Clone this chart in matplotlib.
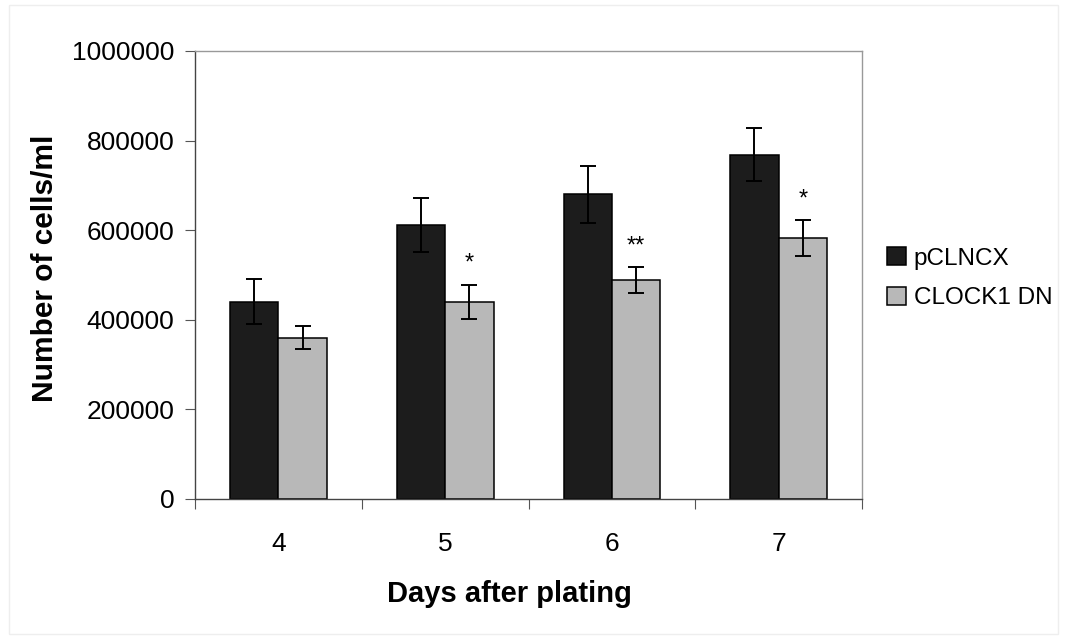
import numpy as np
import matplotlib
matplotlib.use("Agg")
import matplotlib.pyplot as plt

# Data
days = ["4", "5", "6", "7"]
pclncx = [440000, 612000, 680000, 768000]
pclncx_err = [50000, 60000, 63000, 59000]
clock_dn = [360000, 440000, 488000, 582000]
clock_dn_err = [26000, 38000, 29000, 40000]
signif = ["", "*", "**", "*"]

plt.rcParams["font.family"] = ["Liberation Sans", "DejaVu Sans"]

fig = plt.figure(figsize=(10.67, 6.39), dpi=100)
ax = fig.add_axes([0.1828, 0.2191, 0.6251, 0.7011])

x = np.arange(len(days))
w = 0.29
err_kw = dict(ecolor="black", elinewidth=1.4, capsize=5.5, capthick=1.4)
ax.bar(x - w / 2, pclncx, w, yerr=pclncx_err, color="#1c1c1c", edgecolor="black",
       linewidth=1.1, label="pCLNCX", error_kw=err_kw)
ax.bar(x + w / 2, clock_dn, w, yerr=clock_dn_err, color="#b8b8b8", edgecolor="black",
       linewidth=1.1, label="CLOCK1 DN", error_kw=err_kw)

# significance stars above the CLOCK1 DN bars
for i, s in enumerate(signif):
    if s:
        ax.text(x[i] + w / 2, clock_dn[i] + clock_dn_err[i] + 22000, s,
                ha="center", va="bottom", fontsize=17)

ax.set_xlim(-0.5, len(days) - 0.5)
ax.set_ylim(0, 1000000)
ax.set_yticks(np.arange(0, 1000001, 200000))
ax.set_yticklabels([str(v) for v in range(0, 1000001, 200000)], fontsize=19)

# category ticks at group boundaries, labels at centres
ax.set_xticks(np.arange(-0.5, len(days), 1))
ax.set_xticklabels([])
ax.set_xticks(x, minor=True)
ax.set_xticklabels(days, minor=True, fontsize=19)
ax.tick_params(axis="x", which="major", length=7, width=0.8, color="#555555", direction="out")
ax.tick_params(axis="x", which="minor", length=0, pad=24)
ax.tick_params(axis="y", length=7, width=0.8, color="#555555", direction="out", pad=8)

for side in ["left", "bottom"]:
    ax.spines[side].set_color("#444444")
    ax.spines[side].set_linewidth(1.0)
for side in ["top", "right"]:
    ax.spines[side].set_color("#999999")
    ax.spines[side].set_linewidth(1.0)

ax.set_xlabel("Days after plating", fontsize=21, fontweight="bold", labelpad=17)
ax.xaxis.set_label_coords(0.472, -0.18)
ax.set_ylabel("Number of cells/ml", fontsize=21.5, fontweight="bold", labelpad=9)
ax.yaxis.label.set_y(0.515)

ax.legend(loc="center left", bbox_to_anchor=(1.0375, 0.493), frameon=False, fontsize=17.5,
          borderpad=0, borderaxespad=0, handlelength=0.8, handleheight=0.8,
          handletextpad=0.3, labelspacing=0.7)

# faint frame around the whole picture
fig.patches.append(plt.Rectangle((0.008, 0.008), 0.984, 0.984, transform=fig.transFigure,
                                 fill=False, edgecolor="#eeeeee", linewidth=1))

fig.savefig("out.png", dpi=100, facecolor="white")
